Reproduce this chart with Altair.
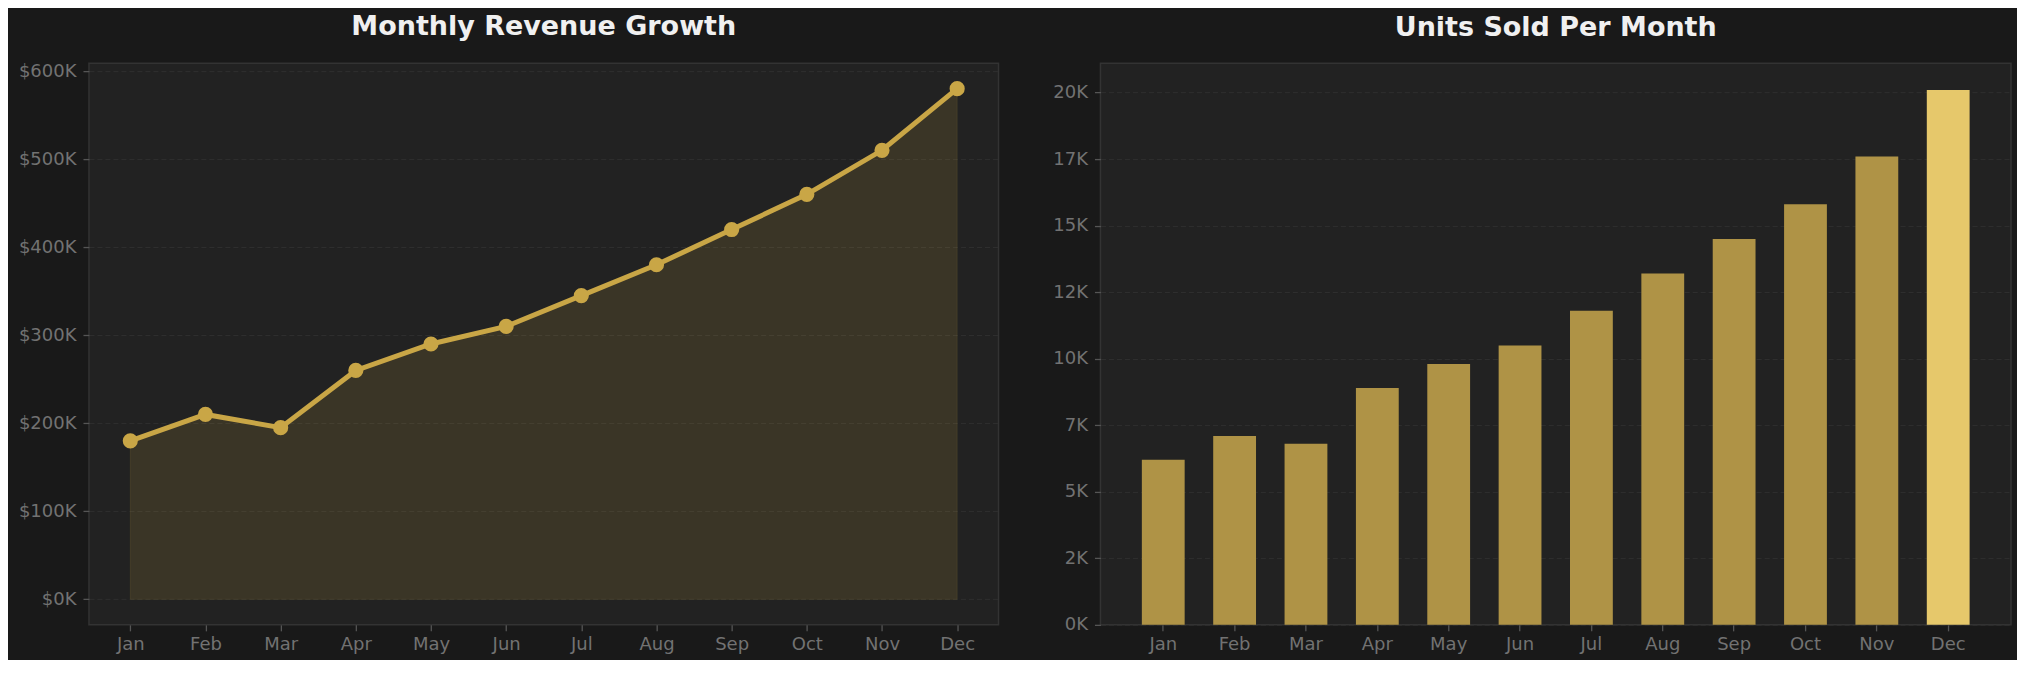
import altair as alt
import pandas as pd

months = ["Jan", "Feb", "Mar", "Apr", "May", "Jun", "Jul", "Aug", "Sep", "Oct", "Nov", "Dec"]
revenue = [180000, 210000, 195000, 260000, 290000, 310000, 345000, 380000, 420000, 460000, 510000, 580000]
units = [6200, 7100, 6800, 8900, 9800, 10500, 11800, 13200, 14500, 15800, 17600, 20100]
revenue_ticks = [0, 100000, 200000, 300000, 400000, 500000, 600000]
units_ticks = [0, 2500, 5000, 7500, 10000, 12500, 15000, 17500, 20000]

df_rev = pd.DataFrame({"Month": months, "Revenue": revenue})
df_units = pd.DataFrame({"Month": months, "Units": units})

GOLD = "#c9a646"
BAR = "#af9346"
BAR_HI = "#e6c86b"
FONT = "DejaVu Sans"

common_axis = dict(
    labelColor="#727272", labelFontSize=18, labelFont=FONT,
    tickColor="#555555", tickSize=6, tickWidth=1.3,
    domain=False, title=None,
)

x_rev = alt.X("Month:O", sort=months,
              scale=alt.Scale(type="point", padding=0.55),
              axis=alt.Axis(labelAngle=0, grid=False, labelPadding=5, **common_axis))
y_rev = alt.Y("Revenue:Q",
              scale=alt.Scale(domain=[-29000, 609000], nice=False, zero=False),
              axis=alt.Axis(values=revenue_ticks,
                            labelExpr="'$' + format(datum.value/1000, '.0f') + 'K'",
                            grid=True, gridColor="#2f2f2f", gridDash=[5, 3], gridWidth=1,
                            labelPadding=7, **common_axis))

area = alt.Chart(df_rev).mark_area(
    color=GOLD, fillOpacity=0.15, stroke=GOLD, strokeOpacity=0.12, strokeWidth=1
).encode(x=x_rev, y=y_rev, y2=alt.datum(0))

line = alt.Chart(df_rev).mark_line(
    color=GOLD, strokeWidth=5,
    point=alt.OverlayMarkDef(filled=True, color=GOLD, size=230, opacity=1)
).encode(x=x_rev, y=y_rev)

left = alt.layer(area, line).properties(
    width=910, height=562,
    title=alt.TitleParams("Monthly Revenue Growth", fontSize=27, font=FONT, fontWeight="bold",
                          color="#f0f0f0", anchor="middle", offset=21),
)

right = alt.Chart(df_units).mark_bar().encode(
    x=alt.X("Month:O", sort=months,
            scale=alt.Scale(type="band", paddingInner=0.4, paddingOuter=0.58),
            axis=alt.Axis(labelAngle=0, grid=False, bandPosition=0.5, labelPadding=5, **common_axis)),
    y=alt.Y("Units:Q",
            scale=alt.Scale(domain=[0, 21105], nice=False),
            axis=alt.Axis(values=units_ticks,
                          labelExpr="floor(datum.value/1000) + 'K'",
                          grid=True, gridColor="#2f2f2f", gridDash=[5, 3], gridWidth=1,
                          labelPadding=7, **common_axis)),
    color=alt.condition(alt.datum.Month == "Dec", alt.value(BAR_HI), alt.value(BAR)),
).properties(
    width=911, height=562,
    title=alt.TitleParams("Units Sold Per Month", fontSize=27, font=FONT, fontWeight="bold",
                          color="#f0f0f0", anchor="middle", offset=21),
)

chart = alt.hconcat(left, right, spacing=52).properties(
    background="#191919",
    padding={"left": 9, "top": 4, "right": 5, "bottom": 5},
).configure_view(
    fill="#222222", stroke="#333333", strokeWidth=1.5
).configure_title(
    font=FONT
)

chart.save("out.html", embed_options={"renderer": "svg", "actions": False})
